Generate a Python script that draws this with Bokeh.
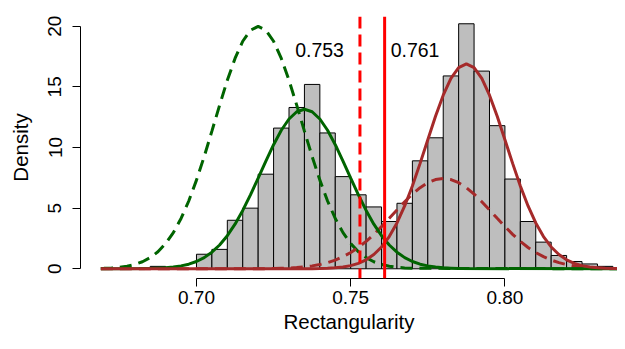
from bokeh.plotting import figure
from bokeh.models import Range1d, FixedTicker, NumeralTickFormatter, Span
from bokeh.core.properties import value
from bokeh.embed import file_html
from bokeh.resources import INLINE

# ---------------- data ----------------
bin_left = [0.685, 0.690, 0.695, 0.700, 0.705, 0.710, 0.715, 0.720, 0.725, 0.730,
            0.735, 0.740, 0.745, 0.750, 0.755, 0.760, 0.765, 0.770, 0.775, 0.780,
            0.785, 0.790, 0.795, 0.800, 0.805, 0.810, 0.815, 0.820, 0.825, 0.830,
            0.835]
bin_right = [0.690, 0.695, 0.700, 0.705, 0.710, 0.715, 0.720, 0.725, 0.730, 0.735,
             0.740, 0.745, 0.750, 0.755, 0.760, 0.765, 0.770, 0.775, 0.780, 0.785,
             0.790, 0.795, 0.800, 0.805, 0.810, 0.815, 0.820, 0.825, 0.830, 0.835,
             0.840]
density = [0.2, 0.0, 0.0, 1.2, 1.6, 4.0, 5.0, 7.8, 11.6, 13.3,
           15.2, 11.2, 7.6, 6.1, 5.1, 3.9, 5.4, 8.9, 10.8, 15.9,
           20.2, 16.3, 11.8, 7.4, 3.9, 2.2, 1.1, 0.6, 0.4, 0.2,
           0.1]

# green solid curve
green_x = [0.669, 0.6850, 0.6875, 0.6900, 0.6925, 0.6950, 0.6975, 0.7000, 0.7025, 0.7050,
           0.7075, 0.7100, 0.7125, 0.7150, 0.7175, 0.7200, 0.7225, 0.7250, 0.7275, 0.7300,
           0.7325, 0.7350, 0.7375, 0.7400, 0.7425, 0.7450, 0.7475, 0.7500, 0.7525, 0.7550,
           0.7575, 0.7600, 0.7625, 0.7650, 0.7675, 0.7700, 0.7725, 0.7750, 0.7775, 0.7800,
           0.7825, 0.7850, 0.840]
green_y = [0.0, 0.02, 0.05, 0.08, 0.14, 0.24, 0.38, 0.60, 0.92, 1.37,
           1.96, 2.73, 3.68, 4.81, 6.09, 7.47, 8.88, 10.23, 11.42, 12.35,
           12.95, 13.15, 12.95, 12.35, 11.42, 10.23, 8.88, 7.47, 6.09, 4.81,
           3.68, 2.73, 1.96, 1.37, 0.92, 0.60, 0.38, 0.24, 0.14, 0.08,
           0.05, 0.02, 0.0]

# green dashed curve
green0_x = [0.669, 0.6700, 0.6725, 0.6750, 0.6775, 0.6800, 0.6825, 0.6850, 0.6875, 0.6900,
            0.6925, 0.6950, 0.6975, 0.7000, 0.7025, 0.7050, 0.7075, 0.7100, 0.7125, 0.7150,
            0.7175, 0.7200, 0.7225, 0.7250, 0.7275, 0.7300, 0.7325, 0.7350, 0.7375, 0.7400,
            0.7425, 0.7450, 0.7475, 0.7500, 0.7525, 0.7550, 0.7575, 0.7600, 0.7625, 0.7650,
            0.7675, 0.7700, 0.840]
green0_y = [0.03, 0.04, 0.07, 0.12, 0.21, 0.36, 0.58, 0.92, 1.40, 2.08,
            2.98, 4.15, 5.59, 7.31, 9.25, 11.35, 13.49, 15.54, 17.34, 18.76,
            19.67, 19.98, 19.67, 18.76, 17.34, 15.54, 13.49, 11.35, 9.25, 7.31,
            5.59, 4.15, 2.98, 2.08, 1.40, 0.92, 0.58, 0.36, 0.21, 0.12,
            0.07, 0.04, 0.0]

# brown solid curve
red_x = [0.669, 0.7375, 0.7400, 0.7425, 0.7450, 0.7475, 0.7500, 0.7525, 0.7550, 0.7575,
         0.7600, 0.7625, 0.7650, 0.7675, 0.7700, 0.7725, 0.7750, 0.7775, 0.7800, 0.7825,
         0.7850, 0.7875, 0.7900, 0.7925, 0.7950, 0.7975, 0.8000, 0.8025, 0.8050, 0.8075,
         0.8100, 0.8125, 0.8150, 0.8175, 0.8200, 0.8225, 0.8250, 0.8275, 0.8300, 0.8325,
         0.8350, 0.8375, 0.840]
red_y = [0.0, 0.01, 0.02, 0.04, 0.08, 0.15, 0.26, 0.45, 0.74, 1.18,
         1.80, 2.66, 3.78, 5.18, 6.83, 8.69, 10.64, 12.57, 14.31, 15.70,
         16.59, 16.90, 16.59, 15.70, 14.31, 12.57, 10.64, 8.69, 6.83, 5.18,
         3.78, 2.66, 1.80, 1.18, 0.74, 0.45, 0.26, 0.15, 0.08, 0.04,
         0.02, 0.01, 0.0]

# brown dashed curve
red0_x = [0.669, 0.7200, 0.7225, 0.7250, 0.7275, 0.7300, 0.7325, 0.7350, 0.7375, 0.7400,
          0.7425, 0.7450, 0.7475, 0.7500, 0.7525, 0.7550, 0.7575, 0.7600, 0.7625, 0.7650,
          0.7675, 0.7700, 0.7725, 0.7750, 0.7775, 0.7800, 0.7825, 0.7850, 0.7875, 0.7900,
          0.7925, 0.7950, 0.7975, 0.8000, 0.8025, 0.8050, 0.8075, 0.8100, 0.8125, 0.8150,
          0.8175, 0.8200, 0.8225, 0.8250, 0.8275, 0.8300, 0.8325, 0.8350, 0.8375, 0.8400]
red0_y = [0.0, 0.01, 0.01, 0.02, 0.04, 0.06, 0.10, 0.16, 0.24, 0.35,
          0.51, 0.72, 1.00, 1.34, 1.76, 2.26, 2.84, 3.48, 4.16, 4.85,
          5.53, 6.16, 6.69, 7.10, 7.36, 7.45, 7.36, 7.10, 6.69, 6.16,
          5.53, 4.85, 4.16, 3.48, 2.84, 2.26, 1.76, 1.34, 1.00, 0.72,
          0.51, 0.35, 0.24, 0.16, 0.10, 0.06, 0.04, 0.02, 0.01, 0.01]

cutoff_dashed = [0.753]
cutoff_solid = [0.761]
label_y = [18]
x_ticks = [0.70, 0.75, 0.80]
y_ticks = [0, 5, 10, 15, 20]

FONT = "Liberation Sans"

p = figure(width=617, height=341, output_backend="svg", toolbar_location=None,
           x_range=Range1d(0.6624, 0.8365), y_range=Range1d(-0.8, 20.8),
           min_border_left=80, min_border_right=0, min_border_top=16, min_border_bottom=63)
p.grid.visible = False
p.outline_line_color = None
p.background_fill_color = "white"
p.border_fill_color = "white"

p.quad(left=bin_left, right=bin_right, bottom=0, top=density,
       fill_color="#BEBEBE", line_color="black", line_width=1)

p.line(green0_x, green0_y, line_color="#006400", line_width=3, line_dash="12 7")
p.line(red0_x, red0_y, line_color="#A52A2A", line_width=3, line_dash="12 7")
p.line(green_x, green_y, line_color="#006400", line_width=3)
p.line(red_x, red_y, line_color="#A52A2A", line_width=3)

p.add_layout(Span(location=cutoff_dashed[0], dimension="height", line_color="#FF0000",
                  line_width=3, line_dash="12 6"))
p.add_layout(Span(location=cutoff_solid[0], dimension="height", line_color="#FF0000",
                  line_width=3))

p.text(x=cutoff_dashed, y=label_y, text=["0.753"], text_align="right", text_baseline="middle",
       x_offset=-16, text_font=value(FONT), text_font_size="19.5px", text_color="black")
p.text(x=cutoff_solid, y=label_y, text=["0.761"], text_align="left", text_baseline="middle",
       x_offset=6, text_font=value(FONT), text_font_size="19.5px", text_color="black")

for ax in (p.xaxis[0], p.yaxis[0]):
    ax.axis_line_color = "black"
    ax.axis_line_width = 1
    ax.major_tick_line_color = "black"
    ax.major_tick_out = 8
    ax.major_tick_in = 0
    ax.minor_tick_line_color = None
    ax.major_label_text_font = FONT
    ax.major_label_text_font_size = "19px"
    ax.major_label_text_color = "black"
    ax.axis_label_text_font = FONT
    ax.axis_label_text_font_size = "20.5px"
    ax.axis_label_text_font_style = "normal"
    ax.axis_label_text_color = "black"

p.xaxis.bounds = (0.70, 0.80)
p.xaxis.ticker = FixedTicker(ticks=x_ticks)
p.xaxis.formatter = NumeralTickFormatter(format="0.00")
p.xaxis.axis_label = "Rectangularity"
p.xaxis.major_label_standoff = 4
p.xaxis.axis_label_standoff = 3

p.yaxis.bounds = (0, 20)
p.yaxis.ticker = FixedTicker(ticks=y_ticks)
p.yaxis.axis_label = "Density"
p.yaxis.major_label_orientation = "vertical"
p.yaxis.major_label_standoff = 11
p.yaxis.axis_label_standoff = 14

open("out.html", "w").write(file_html(p, INLINE))
